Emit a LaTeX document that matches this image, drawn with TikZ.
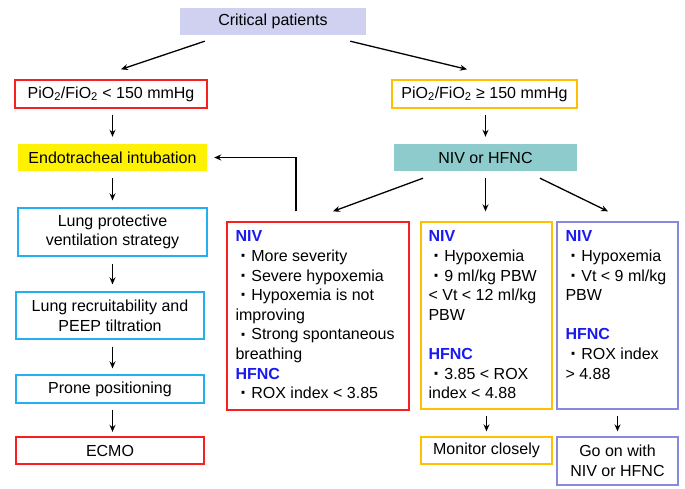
\documentclass[tikz,border=0pt]{standalone}
\usepackage{fontspec}
\setmainfont{Liberation Sans}
\usetikzlibrary{arrows.meta,calc}
\definecolor{critfill}{RGB}{208,208,240}
\definecolor{tealfill}{RGB}{141,203,204}
\definecolor{myred}{RGB}{250,30,30}
\definecolor{myorange}{RGB}{255,192,0}
\definecolor{mycyan}{RGB}{34,176,238}
\definecolor{mypurple}{RGB}{136,136,224}
\definecolor{myblue}{RGB}{26,26,240}
\newcommand{\bul}{\hspace*{5.5pt}\makebox[5.3pt]{\raisebox{-1.3pt}{\fontsize{20}{20}\selectfont\textbf{·}}}\hspace*{5pt}}
\newcommand{\hd}[1]{\textbf{\color{myblue}#1}}
\begin{document}
\begin{tikzpicture}[x=1pt,y=-1pt,
  every node/.style={inner sep=0pt, font=\fontsize{16}{19.6}\selectfont},
  box/.style={draw, line width=1.3pt, align=center},
  txt/.style={align=left, anchor=north west},
  arr/.style={line width=1.3pt, -{Stealth[length=7pt,width=6pt]}}]
\useasboundingbox (0,0) rectangle (685,489);
% top
\node[fill=critfill, minimum width=186, minimum height=27] (crit) at (273,21.5) {Critical patients};
\node[box, draw=myred, minimum width=192, minimum height=28] (lowp) at (111,94) {PiO\textsubscript{2}/FiO\textsubscript{2} < 150 mmHg};
\node[box, draw=myorange, minimum width=185, minimum height=28] (highp) at (484.5,94) {PiO\textsubscript{2}/FiO\textsubscript{2} ≥ 150 mmHg};
\node[fill=yellow, minimum width=189, minimum height=27] (eti) at (112.5,157.5) {Endotracheal intubation};
\node[fill=tealfill, minimum width=183, minimum height=27] (niv) at (485.5,157.5) {NIV or HFNC};
% left column
\node[box, draw=mycyan, minimum width=189, minimum height=48] (lps) at (112.5,232) {Lung protective\\ventilation strategy};
\node[box, draw=mycyan, minimum width=188, minimum height=47] (lrp) at (110,315.5) {Lung recruitability and\\PEEP tiltration};
\node[box, draw=mycyan, minimum width=188, minimum height=28] (prone) at (110,389) {Prone positioning};
\node[box, draw=myred, minimum width=188, minimum height=27] (ecmo) at (110,450.5) {ECMO};
% right boxes
\node[box, draw=myred, minimum width=182, minimum height=188] (redbox) at (318,316) {};
\node[box, draw=myorange, minimum width=131, minimum height=187] (orbox) at (486.5,315.5) {};
\node[box, draw=mypurple, minimum width=121, minimum height=187] (purbox) at (617.5,315.5) {};
\node[box, draw=myorange, minimum width=131, minimum height=27] (monitor) at (486.5,450.5) {Monitor closely};
\node[box, draw=mypurple, minimum width=121, minimum height=48] (goon) at (617.5,461) {Go on with\\NIV or HFNC};
% texts
\node[txt] (redtxt) at ([xshift=9pt,yshift=-9.3pt]redbox.north west) {\hd{NIV}\\\bul More severity\\\bul Severe hypoxemia\\\bul Hypoxemia is not\\improving\\\bul Strong spontaneous\\breathing\\\hd{HFNC}\\\bul ROX index < 3.85};
\node[txt] (ortxt) at ([xshift=8pt,yshift=-9.3pt]orbox.north west) {\hd{NIV}\\\bul Hypoxemia\\\bul 9 ml/kg PBW\\< Vt < 12 ml/kg\\PBW\\[19.6pt]\hd{HFNC}\\\bul 3.85 < ROX\\index < 4.88};
\node[txt] (purtxt) at ([xshift=9pt,yshift=-9.3pt]purbox.north west) {\hd{NIV}\\\bul Hypoxemia\\\bul Vt < 9 ml/kg\\PBW\\[19.6pt]\hd{HFNC}\\\bul ROX index\\> 4.88};
% arrows
\draw[arr] ([xshift=25pt,yshift=-6pt]crit.south west) -- ([xshift=10pt,yshift=10pt]lowp.north);
\draw[arr] ([xshift=-16pt,yshift=-6pt]crit.south east) -- ([xshift=-17.5pt,yshift=10pt]highp.north);
\draw[arr, shorten <=6pt, shorten >=7pt] (eti.north |- lowp.south) -- (eti.north);
\draw[arr, shorten <=6pt, shorten >=7pt] (niv.north |- highp.south) -- (niv.north);
\draw[arr, shorten <=7pt, shorten >=7pt] (eti.south) -- (eti.south |- lps.north);
\draw[arr, shorten <=7pt, shorten >=7pt] (eti.south |- lps.south) -- (eti.south |- lrp.north);
\draw[arr, shorten <=7pt, shorten >=6pt] (eti.south |- lrp.south) -- (eti.south |- prone.north);
\draw[arr, shorten <=6pt, shorten >=4.5pt] (eti.south |- prone.south) -- (eti.south |- ecmo.north);
\draw[arr] ([xshift=-22pt,yshift=10pt]redbox.north) |- ([xshift=7pt]eti.east);
\draw[arr] ([xshift=-62.5pt,yshift=-7pt]niv.south) -- ([xshift=15pt,yshift=10pt]redbox.north);
\draw[arr, shorten <=7pt, shorten >=10pt] (niv.south) -- (niv.south |- orbox.north);
\draw[arr] ([xshift=54.5pt,yshift=-7pt]niv.south) -- ([xshift=-9.5pt,yshift=10pt]purbox.north);
\draw[arr, shorten <=6pt, shorten >=5pt] (orbox.south) -- (monitor.north);
\draw[arr, shorten <=6pt, shorten >=5pt] (purbox.south) -- (goon.north);
\end{tikzpicture}
\end{document}
